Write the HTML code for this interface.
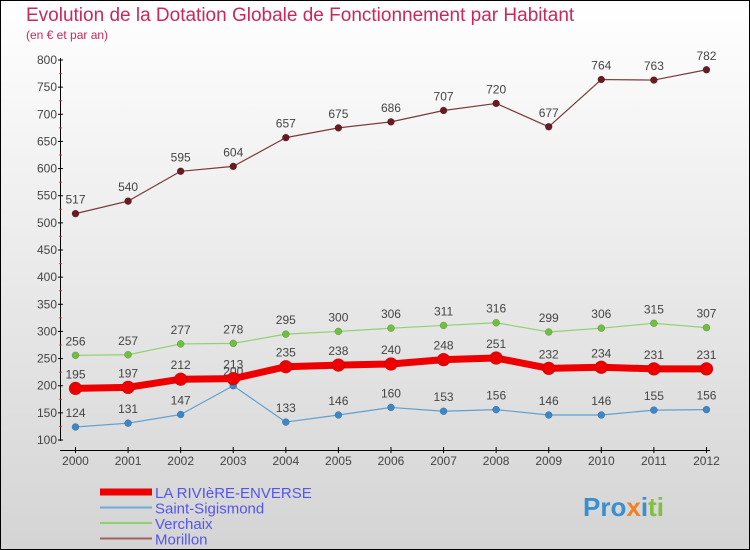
<!DOCTYPE html>
<html><head><meta charset="utf-8"><style>
body{margin:0}
#c{position:relative;width:750px;height:550px;overflow:hidden;font-family:"Liberation Sans",sans-serif}
</style></head><body>
<div id="c">
<svg id="s" width="750" height="550" xmlns="http://www.w3.org/2000/svg">
<defs><linearGradient id="bg" x1="0" y1="0" x2="0" y2="1"><stop offset="0" stop-color="#ffffff"/><stop offset="1" stop-color="#d4d4d4"/></linearGradient></defs>
<rect x="0.5" y="0.5" width="749" height="549" fill="url(#bg)" stroke="#000"/>
<text x="26" y="21" font-size="19" fill="#c8285a">Evolution de la Dotation Globale de Fonctionnement par Habitant</text>
<text x="26" y="39" font-size="12" fill="#c8285a">(en € et par an)</text>
<g id="axes"></g><g id="series"></g><g id="legend"></g>
<text x="583" y="516" font-size="26" font-weight="bold" fill="#3a8fd0">Pro<tspan fill="#f08020">x</tspan><tspan fill="#3a8fd0">i</tspan><tspan fill="#80c040">ti</tspan></text>
</svg></div>
<script>
const years=[2000,2001,2002,2003,2004,2005,2006,2007,2008,2009,2010,2011,2012];
const riviere=[195,197,212,213,235,238,240,248,251,232,234,231,231];
const sigismond=[124,131,147,200,133,146,160,153,156,146,146,155,156];
const verchaix=[256,257,277,278,295,300,306,311,316,299,306,315,307];
const morillon=[517,540,595,604,657,675,686,707,720,677,764,763,782];
const yTicks=[100,150,200,250,300,350,400,450,500,550,600,650,700,750,800];
const names=["LA RIVIèRE-ENVERSE","Saint-Sigismond","Verchaix","Morillon"];
const NS="http://www.w3.org/2000/svg";
const X=i=>75.5+i*52.58;
const Y=v=>440-(v-100)*380/700;
function mk(tag,at,parent){const e=document.createElementNS(NS,tag);for(const k in at)e.setAttribute(k,at[k]);parent.appendChild(e);return e;}
const ax=document.getElementById('axes');
let l=mk('line',{x1:60.5,y1:58,x2:60.5,y2:441,stroke:'#000'},ax);


l=mk('line',{x1:60,y1:450.5,x2:710,y2:450.5,stroke:'#000'},ax);


yTicks.forEach(v=>{
  mk('line',{x1:58,y1:Y(v),x2:63,y2:Y(v),stroke:'#000'},ax);
  if(v<800)mk('line',{x1:59,y1:Y(v+25),x2:62,y2:Y(v+25),stroke:'#f03030'},ax);
  const t=mk('text',{x:57,y:Y(v)+4,'font-size':12,fill:'#444','text-anchor':'end'},ax);t.textContent=v;
  
  
});
years.forEach((y,i)=>{
  mk('line',{x1:X(i),y1:447,x2:X(i),y2:453,stroke:'#000'},ax);
  const t=mk('text',{x:X(i),y:465,'font-size':12,fill:'#444','text-anchor':'middle'},ax);t.textContent=y;
  
  
});
const sg=document.getElementById('series');
function series(data,color,dot,w,r,name,lblColor){
  const g=mk('g',{},sg);
  
  
  mk('polyline',{points:data.map((v,i)=>X(i)+','+Y(v)).join(' '),fill:'none',stroke:color,'stroke-width':w,'stroke-linejoin':'round'},g);
  data.forEach((v,i)=>{
    const c=mk('circle',{cx:X(i),cy:Y(v),r:r,fill:dot,stroke:'rgba(0,0,0,0.3)','stroke-width':0.5},g);
    
    
    const t=mk('text',{x:X(i),y:Y(v)-10,'font-size':12,fill:'#444','text-anchor':'middle'},g);t.textContent=v;
    
    
  });
}
series(morillon,'#7a3a3a','#6a1a22',1.2,3.5,'morillon-series');
series(verchaix,'#90d070','#70c040',1.2,3.5,'verchaix-series');
series(sigismond,'#5ea0d0','#3a88c8',1.2,3.5,'saint-sigismond-series');
series(riviere,'#ee0000','#ee0000',7,6.5,'la-riviere-enverse-series');
const lg=document.getElementById('legend');
const lc=['#ee0000','#70aad8','#90d070','#a06060'],lw=[7,2,2,2];
names.forEach((n,i)=>{
  const y=493+i*15.5;
  const g=mk('g',{},lg);
  
  
  mk('line',{x1:100,y1:y-1,x2:152,y2:y-1,stroke:lc[i],'stroke-width':lw[i]},g);
  const t=mk('text',{x:155,y:y+5,'font-size':15,fill:'#5555ee'},g);t.textContent=n;
});
</script>
</body></html>
